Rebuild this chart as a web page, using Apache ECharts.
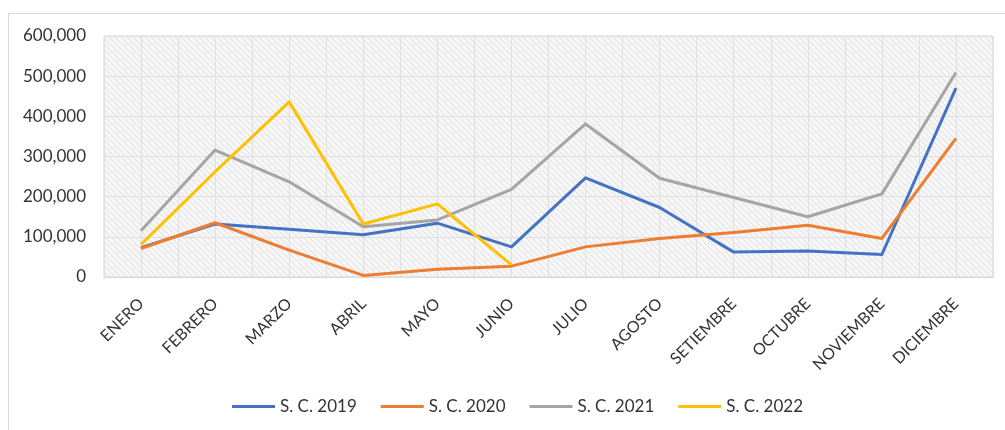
<!DOCTYPE html>
<html>
<head>
<meta charset="utf-8">
<script src="https://cdn.jsdelivr.net/npm/echarts@6/dist/echarts.min.js"></script>
<style>
  html, body { margin: 0; padding: 0; background: #fff; }
  #chart { width: 1005px; height: 430px; }
</style>
</head>
<body>
<div id="chart"></div>
<script>
const months = ['ENERO', 'FEBRERO', 'MARZO', 'ABRIL', 'MAYO', 'JUNIO', 'JULIO',
  'AGOSTO', 'SETIEMBRE', 'OCTUBRE', 'NOVIEMBRE', 'DICIEMBRE'];
const sc2019 = [73000, 132000, 119000, 105000, 134000, 75000, 247000, 173000, 62000, 65000, 56000, 470000];
const sc2020 = [71000, 135000, 67000, 4000, 19000, 27000, 75000, 96000, 111000, 129000, 96000, 345000];
const sc2021 = [115000, 316000, 237000, 125000, 142000, 218000, 381000, 246000, 198000, 150000, 207000, 509000];
const sc2022 = [81000, 262000, 436000, 132000, 182000, 30000, null, null, null, null, null, null];
const yTicks = [0, 100000, 200000, 300000, 400000, 500000, 600000];

// half-category slots, only used to draw the extra vertical grid lines
const halfSlots = new Array(months.length * 2).fill('');

// light diagonal hatch for the plot background
function hatch() {
  const c = document.createElement('canvas');
  c.width = 6; c.height = 6;
  const ctx = c.getContext('2d');
  ctx.fillStyle = '#f6f6f6';
  ctx.fillRect(0, 0, 6, 6);
  ctx.strokeStyle = '#e0e0e0';
  ctx.lineWidth = 1;
  ctx.beginPath();
  ctx.moveTo(0, 0); ctx.lineTo(6, 6);
  ctx.moveTo(-3, 3); ctx.lineTo(3, 9);
  ctx.moveTo(3, -3); ctx.lineTo(9, 3);
  ctx.stroke();
  return { image: c, repeat: 'repeat' };
}

const font = 'Lato';
const txt = '#333333';
const gridCol = '#e0e0e0';

const chart = echarts.init(document.getElementById('chart'));
chart.setOption({
  animation: false,
  color: ['#4472C4', '#ED7D31', '#A5A5A5', '#FFC000'],
  graphic: [
    { type: 'line', shape: { x1: 8, y1: 13.5, x2: 1005, y2: 13.5 }, style: { stroke: '#d9d9d9', lineWidth: 1 } },
    { type: 'line', shape: { x1: 8.5, y1: 13, x2: 8.5, y2: 430 }, style: { stroke: '#d9d9d9', lineWidth: 1 } }
  ],
  grid: {
    left: 104, right: 12, top: 36, bottom: 153,
    show: true,
    backgroundColor: hatch(),
    borderColor: '#d9d9d9',
    borderWidth: 1
  },
  legend: {
    left: 232,
    top: 398,
    padding: 0,
    icon: 'rect',
    itemWidth: 43,
    itemHeight: 3,
    itemGap: 24,
    textStyle: { fontFamily: font, fontSize: 17, color: txt }
  },
  xAxis: [
    {
      type: 'category',
      data: months,
      boundaryGap: true,
      axisLine: { lineStyle: { color: '#d9d9d9' } },
      axisTick: { show: false },
      splitLine: { show: false },
      axisLabel: {
        interval: 0,
        rotate: 45,
        margin: 24,
        fontFamily: font,
        fontSize: 16,
        color: txt
      }
    },
    {
      type: 'category',
      data: halfSlots,
      boundaryGap: true,
      position: 'bottom',
      axisLine: { show: false },
      axisTick: { show: false },
      axisLabel: { show: false },
      splitLine: { show: true, interval: 0, lineStyle: { color: gridCol, width: 1 } }
    }
  ],
  yAxis: {
    type: 'value',
    min: yTicks[0],
    max: yTicks[yTicks.length - 1],
    interval: yTicks[1] - yTicks[0],
    axisLine: { show: false },
    axisTick: { show: false },
    splitLine: { lineStyle: { color: gridCol, width: 1 } },
    axisLabel: {
      margin: 18,
      fontFamily: font,
      fontSize: 17,
      color: txt,
      formatter: v => v.toLocaleString('en-US')
    }
  },
  series: [
    { name: 'S. C. 2019', type: 'line', data: sc2019 },
    { name: 'S. C. 2020', type: 'line', data: sc2020 },
    { name: 'S. C. 2021', type: 'line', data: sc2021 },
    { name: 'S. C. 2022', type: 'line', data: sc2022 }
  ].map(s => Object.assign(s, {
    symbol: 'none',
    lineStyle: { width: 3, join: 'round' },
    z: 3
  }))
});
</script>
</body>
</html>
